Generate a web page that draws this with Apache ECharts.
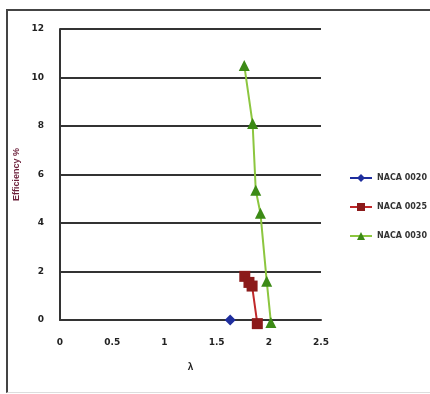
<!DOCTYPE html>
<html>
<head>
<meta charset="utf-8">
<script src="https://cdn.jsdelivr.net/npm/echarts@6/dist/echarts.min.js"></script>
<style>
    html, body { margin: 0; padding: 0; background: #fff; }
    .frame {
        position: absolute; left: 6px; top: 9px; width: 430px; height: 381px;
        border-left: 2px solid #444; border-top: 2px solid #444; border-bottom: 1px solid #ddd;
    }
    #chart { position: absolute; left: 0; top: 0; width: 430px; height: 394px; }
</style>
</head>
<body>
<div class="frame"></div>
<div id="chart"></div>
<script>
// 数据
const seriesNames = ['NACA 0020', 'NACA 0025', 'NACA 0030']
const naca0020 = [[1.63, 0]]
const naca0025 = [[1.77, 1.8], [1.81, 1.55], [1.84, 1.4], [1.89, -0.15]]
const naca0030 = [[1.765, 10.5], [1.845, 8.1], [1.875, 5.35], [1.92, 4.4], [1.98, 1.6], [2.02, -0.1]]
const xTicks = [0, 0.5, 1, 1.5, 2, 2.5]
const yTicks = [0, 2, 4, 6, 8, 10, 12]

const COLORS = ['#1f2e9e', '#8b1a1a', '#3c8a16']
const LINE_COLORS = ['#1f2e9e', '#c0282a', '#8cc63f']

const chart = echarts.init(document.getElementById('chart'))

const tickFont = {
    fontSize: 9,
    fontWeight: 'bold',
    fontFamily: 'DejaVu Sans',
    color: '#222'
}

const option = {
    animation: false,
    grid: { left: 60, right: 109, top: 29, bottom: 74 },
    legend: {
        orient: 'vertical',
        left: 344,
        top: 169,
        itemGap: 21,
        itemWidth: 22,
        itemHeight: 10,
        textStyle: { fontSize: 8, fontWeight: 'bold', fontFamily: 'DejaVu Sans', color: '#333' },
        data: seriesNames
    },
    xAxis: {
        type: 'value',
        min: 0,
        max: 2.5,
        interval: 0.5,
        name: 'λ',
        nameLocation: 'middle',
        nameGap: 42,
        nameTextStyle: { fontSize: 10, fontWeight: 'bold', color: '#222' },
        axisLine: { show: true, lineStyle: { color: '#333', width: 2 } },
        axisTick: { show: false },
        splitLine: { show: false },
        axisLabel: Object.assign({ margin: 18, formatter: v => xTicks.includes(v) ? String(v) : '' }, tickFont)
    },
    yAxis: {
        type: 'value',
        min: 0,
        max: 12,
        interval: 2,
        name: 'Efficiency %',
        nameLocation: 'middle',
        nameGap: 31,
        nameTextStyle: { fontSize: 9, fontWeight: 'bold', color: '#6b1f3a' },
        axisLine: { show: true, lineStyle: { color: '#333', width: 2 } },
        axisTick: { show: false },
        splitLine: { show: true, lineStyle: { color: '#333', width: 2 } },
        axisLabel: Object.assign({ margin: 16, formatter: v => yTicks.includes(v) ? String(v) : '' }, tickFont)
    },
    series: [
        {
            name: seriesNames[0],
            type: 'line',
            data: naca0020,
            clip: false,
            symbol: 'diamond',
            symbolSize: 11,
            itemStyle: { color: COLORS[0] },
            lineStyle: { color: LINE_COLORS[0], width: 2 }
        },
        {
            name: seriesNames[1],
            type: 'line',
            data: naca0025,
            clip: false,
            symbol: 'rect',
            symbolSize: 11,
            itemStyle: { color: COLORS[1] },
            lineStyle: { color: LINE_COLORS[1], width: 2 }
        },
        {
            name: seriesNames[2],
            type: 'line',
            data: naca0030,
            clip: false,
            symbol: 'triangle',
            symbolSize: 11,
            itemStyle: { color: COLORS[2] },
            lineStyle: { color: LINE_COLORS[2], width: 2 }
        }
    ]
}

chart.setOption(option)
</script>
</body>
</html>
